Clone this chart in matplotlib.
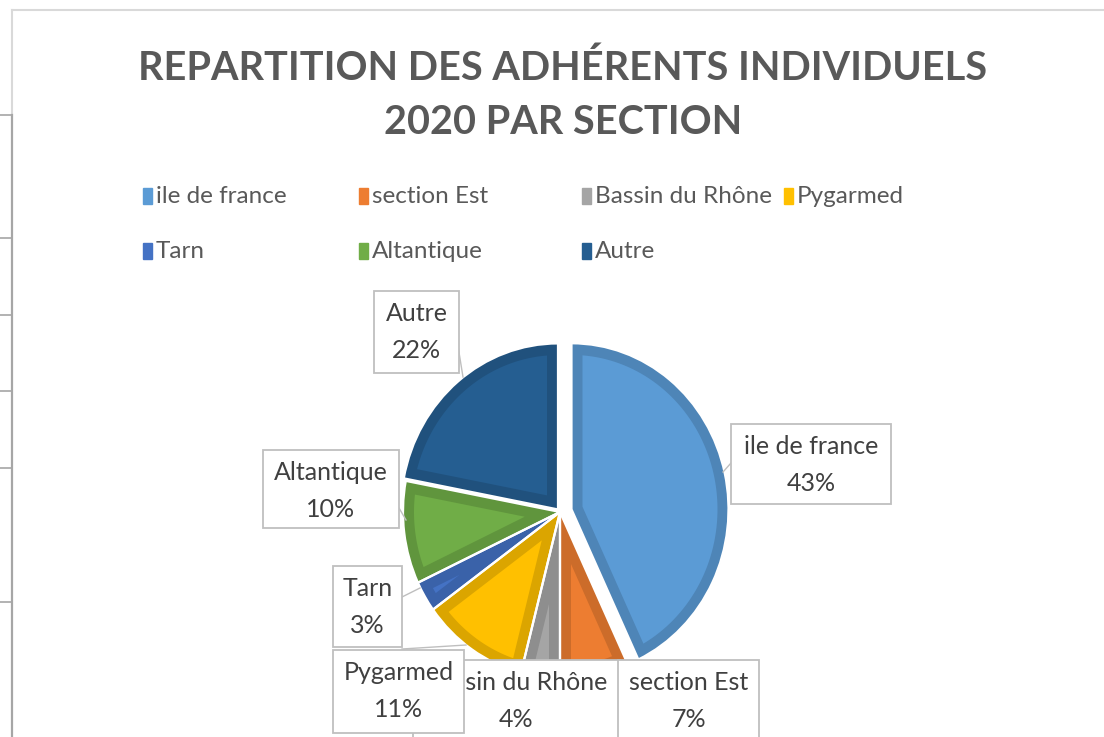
import numpy as np
import matplotlib
matplotlib.use("Agg")
import matplotlib.pyplot as plt
from matplotlib.patches import Rectangle, Polygon

# données
sections = ["ile de france", "section Est", "Bassin du Rhône", "Pygarmed",
            "Tarn", "Altantique", "Autre"]
pourcents = [43, 7, 4, 11, 3, 10, 22]
couleurs = ["#5B9BD5", "#ED7D31", "#A5A5A5", "#FFC000",
            "#4472C4", "#70AD47", "#255E91"]
titre = "REPARTITION DES ADHÉRENTS INDIVIDUELS\n2020 PAR SECTION"

plt.rcParams['font.family'] = ['Lato', 'DejaVu Sans']

W, H = 1104, 737
fig = plt.figure(figsize=(W / 100, H / 100), dpi=100)
fig.patch.set_facecolor("white")

# ---- camembert (axe à part, légèrement ovale comme la capture)
cx, cy, rx, ry = 560, 512, 157, 166
axp = fig.add_axes([(cx - 1.3 * rx) / W, (H - cy - 1.3 * ry) / H,
                    2.6 * rx / W, 2.6 * ry / H], zorder=1)
explode = [0.075, 0, 0, 0, 0, 0, 0.02]


def assombrir(c, f=0.86):
    r, g, b = matplotlib.colors.to_rgb(c)
    return (r * f, g * f, b * f)


# parts en couleur foncée (bordure), puis intérieur clair
wedges, _ = axp.pie(pourcents, colors=[assombrir(c) for c in couleurs],
                    startangle=90, counterclock=False, explode=explode, frame=True,
                    wedgeprops=dict(linewidth=0))
bande = 0.07
for w, c in zip(wedges, couleurs):
    rho = w.r - bande
    t1, t2 = np.radians(w.theta1), np.radians(w.theta2)
    a1, a2 = t1 + np.arcsin(bande / rho), t2 - np.arcsin(bande / rho)
    if a2 <= a1:
        continue
    mid = (t1 + t2) / 2
    d = bande / np.sin((t2 - t1) / 2)
    if d >= rho:
        continue
    x0, y0 = w.center
    sommet = (x0 + d * np.cos(mid), y0 + d * np.sin(mid))
    arc = np.linspace(a1, a2, 80)
    pts = [sommet] + [(x0 + rho * np.cos(a), y0 + rho * np.sin(a)) for a in arc]
    axp.add_patch(Polygon(pts, closed=True, facecolor=c, edgecolor="none", zorder=2))

# fins traits blancs entre les parts
sep, _ = axp.pie(pourcents, startangle=90, counterclock=False, explode=explode, frame=True,
                 wedgeprops=dict(linewidth=1.6, edgecolor="white", fill=False))
for w in sep:
    w.set_zorder(3)
axp.set_xlim(-1.3, 1.3)
axp.set_ylim(-1.3, 1.3)
axp.set_aspect("auto")
axp.axis("off")

# ---- calque en pixels pour le reste
ax = fig.add_axes([0, 0, 1, 1], zorder=2)
ax.set_xlim(0, W)
ax.set_ylim(H, 0)
ax.axis("off")
ax.patch.set_alpha(0)

# grille de la feuille excel à gauche + bord du graphique
for y in [115, 238, 315, 391, 468, 602]:
    ax.plot([0, 11], [y, y], color="#a6a6a6", lw=1.2)
ax.plot([12, 12], [10, 115], color="#d9d9d9", lw=1.5)
ax.plot([11.5, 11.5], [115, H], color="#a6a6a6", lw=1.6)
ax.plot([12, W], [10, 10], color="#d9d9d9", lw=1.5)

# titre
ax.text(563, 95, titre, ha="center", va="center", fontsize=28.5, fontweight="bold",
        color="#595959", linespacing=1.55)

# légende
leg_x = [143, 359, 582, 784, 143, 359, 582]
leg_y = [196, 196, 196, 196, 251, 251, 251]
for nom, c, x, y in zip(sections, couleurs, leg_x, leg_y):
    ax.add_patch(Rectangle((x, y - 8), 9, 16, color=c))
    ax.text(x + 13, y, nom, ha="left", va="center", fontsize=17.5, color="#595959")

# étiquettes (boîtes blanches + traits de rappel)
boites = {  # x0, y0, x1, y1
    "Autre": (374, 291, 459, 373),
    "Altantique": (263, 450, 399, 528),
    "ile de france": (731, 424, 891, 504),
    "Tarn": (333, 566, 402, 647),
    "Bassin du Rhône": (413, 660, 620, 760),
    "section Est": (618, 660, 759, 760),
    "Pygarmed": (333, 650, 464, 733),
}
rappels = {
    "Autre": [(457, 340), (463, 377)],
    "Altantique": [(399, 508), (406, 520)],
    "ile de france": [(731, 463), (723, 472)],
    "Tarn": [(402, 597), (420, 588)],
    "Pygarmed": [(402, 649), (466, 645)],
}
ordre = ["Autre", "Altantique", "ile de france", "Tarn", "Bassin du Rhône",
         "section Est", "Pygarmed"]
for i, nom in enumerate(ordre):
    k = sections.index(nom)
    if nom in rappels:
        (xa, ya), (xb, yb) = rappels[nom]
        ax.plot([xa, xb], [ya, yb], color="#bfbfbf", lw=1, zorder=3 + 2 * i)
    x0, y0, x1, y1 = boites[nom]
    ax.add_patch(Rectangle((x0, y0), x1 - x0, y1 - y0, facecolor="white",
                           edgecolor="#bfbfbf", lw=1.3, zorder=4 + 2 * i))
    ax.text((x0 + x1) / 2, y0 + 41, f"{nom}\n{pourcents[k]}%", ha="center", va="center",
            fontsize=18, color="#404040", linespacing=1.75, zorder=5 + 2 * i)

fig.savefig("out.png", dpi=100)
